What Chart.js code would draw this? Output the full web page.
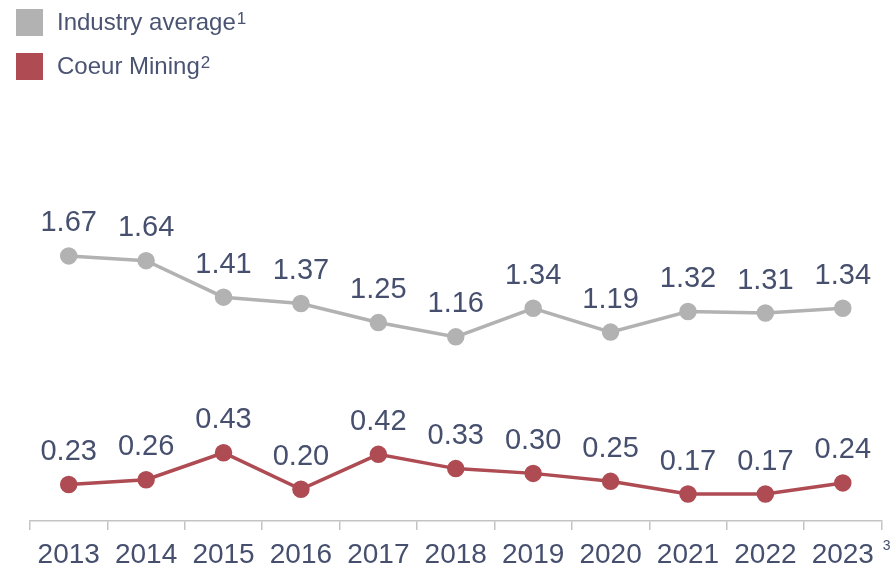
<!DOCTYPE html>
<html>
<head>
<meta charset="utf-8">
<script src="https://cdn.jsdelivr.net/npm/chart.js@4.4.0/dist/chart.umd.min.js"></script>
<style>
  body { margin: 0; background: #fff; }
  #wrap { position: relative; width: 892px; height: 566px; }
  #legend { position: absolute; left: 16px; top: 0px; font-family: "Liberation Sans", Arial, sans-serif;
            font-size: 24px; color: #4a5372; }
  .item { display: flex; align-items: center; height: 44px; }
  .box { width: 27px; height: 27px; margin-right: 14px; }
  sup { font-size: 17px; position: relative; top: -3px; margin-left: 1px; }
</style>
</head>
<body>
<div id="wrap">
  <canvas id="lineChart" width="892" height="566"></canvas>
  <div id="legend">
    <div class="item"><span class="box" style="background:#b2b2b2"></span>Industry average<sup>1</sup></div>
    <div class="item"><span class="box" style="background:#ae4b53"></span>Coeur Mining<sup>2</sup></div>
  </div>
</div>
<script>
const years = ["2013", "2014", "2015", "2016", "2017", "2018", "2019", "2020", "2021", "2022", "2023"];
const industryAvg = [1.67, 1.64, 1.41, 1.37, 1.25, 1.16, 1.34, 1.19, 1.32, 1.31, 1.34];
const coeurMining = [0.23, 0.26, 0.43, 0.20, 0.42, 0.33, 0.30, 0.25, 0.17, 0.17, 0.24];

const textColor = "#46506e";

// draws the value above each point + the footnote after the last year
const valueLabels = {
  id: "valueLabels",
  afterDatasetsDraw(chart) {
    const ctx = chart.ctx;
    ctx.save();
    ctx.fillStyle = textColor;
    ctx.font = "29px 'Liberation Sans', Arial, sans-serif";
    ctx.textAlign = "center";
    ctx.textBaseline = "bottom";
    chart.data.datasets.forEach((ds, i) => {
      chart.getDatasetMeta(i).data.forEach((pt, j) => {
        ctx.fillText(ds.data[j].toFixed(2), pt.x, pt.y - 18);
      });
    });
    const x = chart.scales.x;
    ctx.font = "14px 'Liberation Sans', Arial, sans-serif";
    ctx.textAlign = "left";
    ctx.textBaseline = "top";
    ctx.fillText("3", x.getPixelForValue(years.length - 1) + 40, x.top + 18);
    ctx.restore();
  }
};

new Chart(document.getElementById("lineChart"), {
  type: "line",
  data: {
    labels: years,
    datasets: [
      {
        label: "Industry average",
        data: industryAvg,
        borderColor: "#b2b2b2",
        backgroundColor: "#b2b2b2",
        borderWidth: 3.5,
        pointRadius: 7,
        pointHoverRadius: 7,
        tension: 0
      },
      {
        label: "Coeur Mining",
        data: coeurMining,
        borderColor: "#ae4b53",
        backgroundColor: "#ae4b53",
        borderWidth: 3.5,
        pointRadius: 7,
        pointHoverRadius: 7,
        tension: 0
      }
    ]
  },
  options: {
    responsive: false,
    animation: false,
    layout: { padding: { left: 30, right: 4, top: 13, bottom: 0 } },
    plugins: { legend: { display: false }, tooltip: { enabled: false } },
    scales: {
      x: {
        offset: true,
        afterFit(scale) { scale.height = 45; },
        grid: { offset: true, drawOnChartArea: false, tickLength: 9, color: "#c4c4c4", lineWidth: 1.5 },
        border: { color: "#c4c4c4", width: 1.5 },
        ticks: {
          color: textColor,
          padding: 8,
          maxRotation: 0,
          font: { family: "'Liberation Sans', Arial, sans-serif", size: 28 }
        }
      },
      y: {
        display: false,
        min: 0,
        max: 3.2
      }
    }
  },
  plugins: [valueLabels]
});
</script>
</body>
</html>
